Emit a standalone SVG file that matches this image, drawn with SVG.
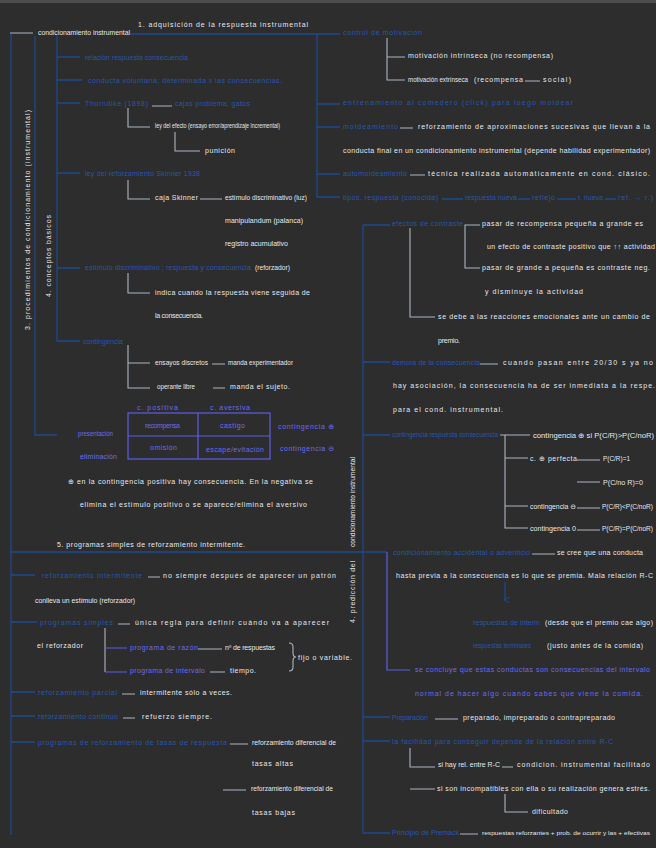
<svg xmlns="http://www.w3.org/2000/svg" width="656" height="848" viewBox="0 0 656 848">
<defs>
<style>
text{font-family:"Liberation Sans","DejaVu Sans",sans-serif;font-size:7px}
.b{fill:#2656b0}
.w{fill:#e4e8ee}
.p{fill:#6b6bf4}
.lb{fill:none;stroke:#1e4a8e;stroke-width:1.3}
.lw{fill:none;stroke:#aab5c0;stroke-width:1.1}
.lp{fill:none;stroke:#5c5ce8;stroke-width:1.2}
</style>
<marker id="arr" markerWidth="6" markerHeight="6" refX="3" refY="5" orient="auto-start-reverse" markerUnits="userSpaceOnUse" viewBox="0 0 6 6">
<path d="M0 0 L3 6 L6 0" fill="none" stroke="#1e4a8e" stroke-width="1"/>
</marker>
</defs>
<rect width="656" height="848" fill="#2d2d2d"/>
<rect width="656" height="3" fill="#4c4c4c"/>

<g id="connectors">
<path class="lb" d="M11 34 V835 M35 36 V435 H57 M57 36 V341 M57 57 H80 M57 80 H82 M57 103 H80 M57 173 H80 M57 268 H80 M57 341 H80 M130 34 H340 M317 34 V197 H340 M317 104 H340 M317 127 H340 M317 174 H340 M11 552 H387 M363 225 H390 M363 225 V833 H390 M363 362 H390 M363 435 H390 M363 717 H390 M363 741 H390 M11 575 H35 M11 622 H37 M11 692 H35 M11 716 H35 M11 742 H35 M442 199 H463 M518 199 H530 M557 199 H576 M605 199 H616"/>
<path class="lb" d="M505 582 V600" marker-end="url(#arr)"/>
<path class="lw" d="M10 33 H33 M128 108 V127 H150 M152 106 H172 M175 132 V151 H200 M128 180 V199 H150 M200 199 H222 M128 273 V293 H150 M128 345 V388 H150 M128 363 H150 M212 364 H225 M213 388 H225 M387 38 V80 H405 M387 57 H405 M525 81 H540 M400 128 H413 M410 175 H425 M480 225 H465 V268 H480 M410 228 V317 H435 M480 364 H498 M500 435 H530 M505 435 V528 H528 M505 458 H528 M505 506 H528 M577 460 H600 M577 482 H600 M577 508 H600 M577 530 H600 M532 554 H555 M148 577 H160 M118 624 H130 M105 628 V672 M198 649 H222 M210 672 H225 M122 694 H135 M123 718 H135 M230 744 H248 M223 790 H246 M435 719 H458 M410 748 V767 H435 M410 789 H435 M502 767 H513 M505 794 V812 H528 M460 834 H478"/>
<path class="lw" d="M289 643 q4 0 4 4 v6 q0 4 3 4 q-3 0 -3 4 v6 q0 4 -4 4"/>
<path class="lp" d="M105 648 H127 M105 672 H127 M387 552 V670 H410"/>
</g>

<g id="titulo">
<text class="w" x="38" y="34.5" textLength="92" lengthAdjust="spacingAndGlyphs">condicionamiento instrumental</text>
<text class="w" x="138" y="27" textLength="170">1. adquisición de la respuesta instrumental</text>
</g>

<g id="etiquetas-verticales">
<text class="w" transform="translate(29.5,220) rotate(-90)" text-anchor="middle" textLength="220">3. procedimientos de condicionamiento (instrumental)</text>
<text class="w" transform="translate(50.5,256) rotate(-90)" text-anchor="middle" textLength="82">4. conceptos básicos</text>
<text class="w" transform="translate(354.5,502) rotate(-90)" text-anchor="middle" textLength="90" lengthAdjust="spacingAndGlyphs">condicionamiento instrumental</text>
<text class="w" transform="translate(354.5,592) rotate(-90)" text-anchor="middle" textLength="62">4. predicción del</text>
</g>

<g id="relacion">
<text class="b" x="85" y="59.5" textLength="103">relación respuesta consecuencia</text>
</g>
<g id="conducta-voluntaria">
<text class="b" x="88" y="82.5" textLength="194">conducta voluntaria; determinada x las consecuencias.</text>
</g>
<g id="thorndike">
<text class="b" x="85" y="105.5" textLength="63">Thorndike (1898)</text>
<text class="b" x="175" y="105.5" textLength="75">cajas problema; gatos</text>
<text class="w" x="155" y="127.5" textLength="125" lengthAdjust="spacingAndGlyphs">ley del efecto (ensayo error/aprendizaje incremental)</text>
<text class="w" x="205" y="152.5" textLength="30">punición</text>
</g>
<g id="skinner">
<text class="b" x="85" y="175.5" textLength="115">ley del reforzamiento Skinner 1938</text>
<text class="w" x="155" y="199.5" textLength="43">caja Skinner</text>
<text class="w" x="225" y="199.5" textLength="82" lengthAdjust="spacingAndGlyphs">estímulo discriminativo (luz)</text>
<text class="w" x="225" y="223" textLength="78">manipulandum (palanca)</text>
<text class="w" x="225" y="246" textLength="63" lengthAdjust="spacingAndGlyphs">registro acumulativo</text>
</g>
<g id="estimulo-discriminativo">
<text class="b" x="85" y="270" textLength="166">estímulo discriminativo ; respuesta y consecuencia</text>
<text class="w" x="255" y="270" textLength="35" lengthAdjust="spacingAndGlyphs">(reforzador)</text>
<text class="w" x="155" y="294.5" textLength="155">indica cuando la respuesta viene seguida de</text>
<text class="w" x="155" y="317.5" textLength="48">la consecuencia.</text>
</g>
<g id="contingencia">
<text class="b" x="83" y="343.5" textLength="40">contingencia</text>
<text class="w" x="155" y="364.5" textLength="53" lengthAdjust="spacingAndGlyphs">ensayos discretos</text>
<text class="w" x="228" y="364.5" textLength="65" lengthAdjust="spacingAndGlyphs">manda experimentador</text>
<text class="w" x="157" y="388.5" textLength="38" lengthAdjust="spacingAndGlyphs">operante libre</text>
<text class="w" x="230" y="388.5" textLength="60">manda el sujeto.</text>
</g>

<g id="tabla">
<text class="p" x="137" y="409.5" textLength="41">c. positiva</text>
<text class="p" x="210" y="409.5" textLength="40">c. aversiva</text>
<rect x="128" y="413" width="142" height="46" class="lp"/>
<path class="lp" d="M128 436 H270 M198 413 V459"/>
<text class="p" x="145" y="427.5" textLength="35">recompensa</text>
<text class="p" x="220" y="427.5" textLength="25">castigo</text>
<text class="p" x="150" y="450" textLength="27">omisión</text>
<text class="p" x="206" y="452" textLength="58">escape/evitación</text>
<text class="p" x="78" y="436" textLength="35" lengthAdjust="spacingAndGlyphs">presentación</text>
<text class="p" x="80" y="458.5" textLength="37">eliminación</text>
<text class="p" x="278" y="428.5" textLength="56">contingencia ⊕</text>
<text class="p" x="280" y="451" textLength="54">contingencia ⊖</text>
</g>

<g id="nota">
<text class="w" x="68" y="483.5" textLength="245">⊕ en la contingencia positiva hay consecuencia. En la negativa se</text>
<text class="w" x="80" y="506.5" textLength="227">elimina el estímulo positivo o se aparece/elimina el aversivo</text>
</g>
<g id="programas-titulo">
<text class="w" x="57" y="546.5" textLength="188">5. programas simples de reforzamiento intermitente.</text>
</g>

<g id="reforzamiento-intermitente">
<text class="b" x="42" y="577.5" textLength="100">reforzamiento intermitente</text>
<text class="w" x="163" y="577.5" textLength="173">no siempre después de aparecer un patrón</text>
<text class="w" x="35" y="602.5" textLength="100" lengthAdjust="spacingAndGlyphs">conlleva un estímulo (reforzador)</text>
</g>
<g id="programas-simples">
<text class="b" x="40" y="624.5" textLength="73">programas simples</text>
<text class="w" x="135" y="624.5" textLength="194">única regla para definir cuándo va a aparecer</text>
<text class="w" x="37" y="647.5" textLength="46">el reforzador</text>
<text class="p" x="130" y="649.5" textLength="68">programa de razón</text>
<text class="w" x="225" y="649.5" textLength="50">nº de respuestas</text>
<text class="p" x="130" y="672.5" textLength="75">programa de intervalo</text>
<text class="w" x="230" y="672.5" textLength="26">tiempo.</text>
<text class="w" x="298" y="659.5" textLength="54">fijo o variable.</text>
</g>
<g id="reforzamiento-parcial">
<text class="b" x="38" y="694.5" textLength="79">reforzamiento parcial</text>
<text class="w" x="140" y="694.5" textLength="92">intermitente sólo a veces.</text>
</g>
<g id="reforzamiento-continuo">
<text class="b" x="38" y="719" textLength="80">reforzamiento continuo</text>
<text class="w" x="142" y="719" textLength="70">refuerzo siempre.</text>
</g>
<g id="programas-tasas">
<text class="b" x="38" y="744.5" textLength="189">programas de reforzamiento de tasas de respuesta</text>
<text class="w" x="252" y="744.5" textLength="84" lengthAdjust="spacingAndGlyphs">reforzamiento diferencial de</text>
<text class="w" x="252" y="766" textLength="41">tasas altas</text>
<text class="w" x="251" y="791" textLength="82" lengthAdjust="spacingAndGlyphs">reforzamiento diferencial de</text>
<text class="w" x="252" y="814.5" textLength="43">tasas bajas</text>
</g>

<g id="control-motivacion">
<text class="b" x="343" y="34.5" textLength="79">control de motivación</text>
<text class="w" x="408" y="57.5" textLength="145">motivación intrínseca (no recompensa)</text>
<text class="w" x="408" y="81.5" textLength="60" lengthAdjust="spacingAndGlyphs">motivación extrínseca</text>
<text class="w" x="474" y="81.5" textLength="49">(recompensa</text>
<text class="w" x="543" y="81.5" textLength="28">social)</text>
</g>
<g id="entrenamiento">
<text class="b" x="343" y="104.5" textLength="230">entrenamiento al comedero (click) para luego moldear</text>
</g>
<g id="moldeamiento">
<text class="b" x="343" y="128.5" textLength="55">moldeamiento</text>
<text class="w" x="418" y="128.5" textLength="232">reforzamiento de aproximaciones sucesivas que llevan a la</text>
<text class="w" x="343" y="152.5" textLength="307">conducta final en un condicionamiento instrumental (depende habilidad experimentador)</text>
</g>
<g id="automoldeamiento">
<text class="b" x="343" y="175.5" textLength="64">automoldeamiento</text>
<text class="w" x="428" y="175.5" textLength="222">técnica realizada automáticamente en cond. clásico.</text>
</g>
<g id="tipos">
<text class="b" x="343" y="199.5" textLength="95">tipos. respuesta (conocida)</text>
<text class="b" x="465" y="199.5" textLength="52">respuesta nueva</text>
<text class="b" x="532" y="199.5" textLength="23">reflejo</text>
<text class="b" x="578" y="199.5" textLength="25">r. nueva</text>
<text class="b" x="618" y="199.5" textLength="35">ref. → r.)</text>
</g>

<g id="efectos-contraste">
<text class="b" x="392" y="225.5" textLength="71">efectos de contraste</text>
<text class="w" x="482" y="225.5" textLength="161">pasar de recompensa pequeña a grande es</text>
<text class="w" x="487" y="248.5" textLength="168">un efecto de contraste positivo que ↑↑ actividad</text>
<text class="w" x="482" y="269.5" textLength="168">pasar de grande a pequeña es contraste neg.</text>
<text class="w" x="485" y="293.5" textLength="98">y disminuye la actividad</text>
<text class="w" x="438" y="318.5" textLength="212">se debe a las reacciones emocionales ante un cambio de</text>
<text class="w" x="438" y="342.5" textLength="22">premio.</text>
</g>
<g id="demora">
<text class="b" x="392" y="364.5" textLength="88">demora de la consecuencia</text>
<text class="w" x="503" y="364.5" textLength="150">cuando pasan entre 20/30 s ya no</text>
<text class="w" x="393" y="387.5" textLength="262">hay asociación, la consecuencia ha de ser inmediata a la respe.</text>
<text class="w" x="393" y="411.5" textLength="110">para el cond. instrumental.</text>
</g>
<g id="contingencia-rc">
<text class="b" x="392" y="436.5" textLength="106" lengthAdjust="spacingAndGlyphs">contingencia respuesta consecuencia</text>
<text class="w" x="533" y="437.5" textLength="121" lengthAdjust="spacingAndGlyphs">contingencia ⊕ si P(C/R)&gt;P(C/noR)</text>
<text class="w" x="530" y="460.5" textLength="47">c. ⊕ perfecta</text>
<text class="w" x="603" y="460.5" textLength="27" lengthAdjust="spacingAndGlyphs">P(C/R)=1</text>
<text class="w" x="603" y="484.5" textLength="40" lengthAdjust="spacingAndGlyphs">P(C/no R)=0</text>
<text class="w" x="530" y="508.5" textLength="46" lengthAdjust="spacingAndGlyphs">contingencia ⊖</text>
<text class="w" x="602" y="508.5" textLength="51" lengthAdjust="spacingAndGlyphs">P(C/R)&lt;P(C/noR)</text>
<text class="w" x="530" y="530.5" textLength="46" lengthAdjust="spacingAndGlyphs">contingencia 0</text>
<text class="w" x="602" y="530.5" textLength="51" lengthAdjust="spacingAndGlyphs">P(C/R)=P(C/noR)</text>
</g>
<g id="condicionamiento-accidental">
<text class="b" x="393" y="554.5" textLength="137">condicionamiento accidental o adventicio</text>
<text class="w" x="557" y="554.5" textLength="86">se cree que una conducta</text>
<text class="w" x="396" y="577.5" textLength="257">hasta previa a la consecuencia es lo que se premia. Mala relación R-C</text>
<text class="b" x="473" y="625" textLength="67" lengthAdjust="spacingAndGlyphs">respuestas de interín</text>
<text class="w" x="545" y="625" textLength="108">(desde que el premio cae algo)</text>
<text class="b" x="473" y="648" textLength="58" lengthAdjust="spacingAndGlyphs">respuestas terminales</text>
<text class="w" x="547" y="648" textLength="96">(justo antes de la comida)</text>
<text class="p" x="415" y="672" textLength="235">se concluye que estas conductas son consecuencias del intervalo</text>
<text class="p" x="415" y="695.5" textLength="228">normal de hacer algo cuando sabes que viene la comida.</text>
</g>
<g id="preparacion">
<text class="b" x="392" y="719.5" textLength="36">Preparación</text>
<text class="w" x="463" y="719.5" textLength="152">preparado, impreparado o contrapreparado</text>
</g>
<g id="facilidad">
<text class="b" x="392" y="743.5" textLength="221">la facilidad para conseguir depende de la relación entre R-C</text>
<text class="w" x="438" y="766.5" textLength="62" lengthAdjust="spacingAndGlyphs">si hay rel. entre R-C</text>
<text class="w" x="517" y="766.5" textLength="133">condicion. instrumental facilitado</text>
<text class="w" x="437" y="790.5" textLength="213">si son incompatibles con ella o su realización genera estrés.</text>
<text class="w" x="532" y="813.5" textLength="36">dificultado</text>
</g>
<g id="premack">
<text class="b" x="392" y="835" textLength="67">Principio de Premack</text>
<text class="w" x="482" y="834.5" style="font-size:6.2px" textLength="168" lengthAdjust="spacingAndGlyphs">respuestas reforzantes + prob. de ocurrir y las + efectivas</text>
</g>
</svg>
